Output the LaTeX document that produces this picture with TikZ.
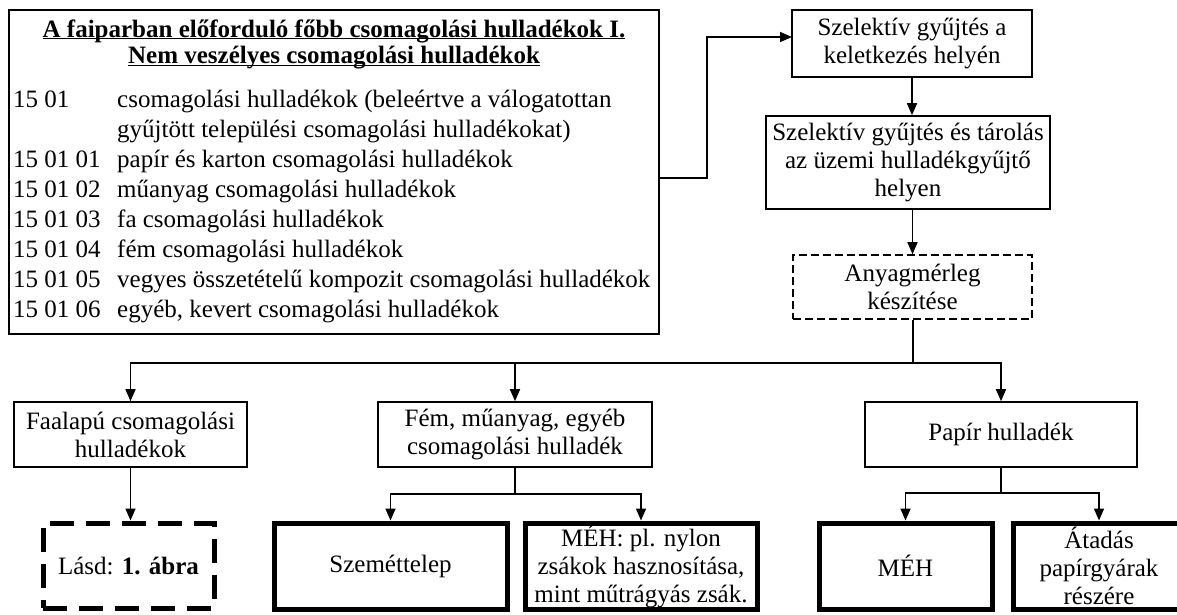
\documentclass[tikz,border=0pt]{standalone}
\usepackage{fontspec}
\setmainfont{Liberation Serif}
\usetikzlibrary{arrows.meta}
\begin{document}
\begin{tikzpicture}[x=1pt,y=-1pt,
  bx/.style={draw, line width=1.6pt, align=center, inner sep=0pt,
    font=\fontsize{25}{28}\selectfont},
  thk/.style={bx, line width=5pt},
  dsh/.style={bx, dash pattern=on 8pt off 4pt},
  thkdsh/.style={thk, dash pattern=on 24pt off 12pt},
  txt/.style={inner sep=0pt, anchor=base west, font=\fontsize{25}{30}\selectfont},
  ttl/.style={inner sep=0pt, anchor=base, font=\fontsize{25}{26.5}\selectfont\bfseries},
  arr/.style={line width=1.6pt, -{Triangle[length=12pt,width=10pt]}},
  ln/.style={line width=1.6pt}]
\useasboundingbox (0,0) rectangle (1177,614);

% main list box
\node[bx, minimum width=650pt, minimum height=324pt] (main) at (334,172) {};
\node[ttl] (t1) at (334,37) {\underline{\smash{A faiparban előforduló főbb csomagolási hulladékok I.}}};
\node[ttl] (t2) at (334,63.5) {\underline{\smash{Nem veszélyes csomagolási hulladékok}}};

\node[txt] (c1) at (13,107) {15 01};
\node[txt] (d1) at (117,107) {csomagolási hulladékok (beleértve a válogatottan};
\node[txt] (d1b) at (117,137) {gyűjtött települési csomagolási hulladékokat)};
\node[txt] (c2) at (13,167) {15 01 01};
\node[txt] (d2) at (117,167) {papír és karton csomagolási hulladékok};
\node[txt] (c3) at (13,197) {15 01 02};
\node[txt] (d3) at (117,197) {műanyag csomagolási hulladékok};
\node[txt] (c4) at (13,227) {15 01 03};
\node[txt] (d4) at (117,227) {fa csomagolási hulladékok};
\node[txt] (c5) at (13,257) {15 01 04};
\node[txt] (d5) at (117,257) {fém csomagolási hulladékok};
\node[txt] (c6) at (13,287) {15 01 05};
\node[txt] (d6) at (117,287) {vegyes összetételű kompozit csomagolási hulladékok};
\node[txt] (c7) at (13,317) {15 01 06};
\node[txt] (d7) at (117,317) {egyéb, kevert csomagolási hulladékok};

% right column
\node[bx, minimum width=240pt, minimum height=67pt] (box1) at (912,43.5) {Szelektív gyűjtés a\\keletkezés helyén};
\node[bx, minimum width=284pt, minimum height=93pt] (box2) at (908,162.5) {Szelektív gyűjtés és tárolás\\az üzemi hulladékgyűjtő\\helyen};
\node[dsh, minimum width=239pt, minimum height=64pt] (anyag) at (912.5,287) {Anyagmérleg\\készítése};

% second row
\node[bx, minimum width=233pt, minimum height=65pt] (faa) at (130.5,434.5) {Faalapú csomagolási\\hulladékok};
\node[bx, minimum width=274pt, minimum height=65pt] (fem) at (515,434.5) {Fém, műanyag, egyéb\\csomagolási hulladék};
\node[bx, minimum width=272pt, minimum height=65pt] (pap) at (1001,434.5) {Papír hulladék};

% bottom row
\node[thkdsh, minimum width=171pt, minimum height=85pt] (lasd) at (128.5,565.5) {Lásd: \textbf{1. ábra}};
\node[thk, minimum width=233pt, minimum height=86pt] (szem) at (390.5,566) {Szeméttelep};
\node[thk, minimum width=232pt, minimum height=86pt] (mehpl) at (641,566) {MÉH: pl. nylon\\zsákok hasznosítása,\\mint műtrágyás zsák.};
\node[thk, minimum width=173pt, minimum height=86pt] (meh) at (905.5,566) {MÉH};
\node[thk, minimum width=172pt, minimum height=86pt] (atad) at (1099,566) {Átadás\\papírgyárak\\részére};

% connectors
\coordinate (m1) at (659,178);
\coordinate (b1in) at (792,37);
\draw[arr] (m1) -- (707,178) |- (b1in);
\draw[arr] (box1.south) -- (box1.south |- box2.north);
\draw[arr] (anyag.north |- box2.south) -- (anyag.north);

\coordinate (j) at (913,363);
\draw[ln] (anyag.south -| j) -- (j);
\draw[arr] (j) -| (faa.north);
\draw[arr] (j) -| (pap.north);
\draw[arr] (fem.north |- j) -- (fem.north);

\draw[arr] (faa.south) -- (faa.south |- lasd.north);

\coordinate (j2) at (515,494);
\draw[ln] (fem.south) -- (j2);
\draw[arr] (j2) -| (szem.north);
\draw[arr] (j2) -| (mehpl.north);

\coordinate (j3) at (1001,493);
\draw[ln] (pap.south) -- (j3);
\draw[arr] (j3) -| (meh.north);
\draw[arr] (j3) -| (atad.north);
\end{tikzpicture}
\end{document}
